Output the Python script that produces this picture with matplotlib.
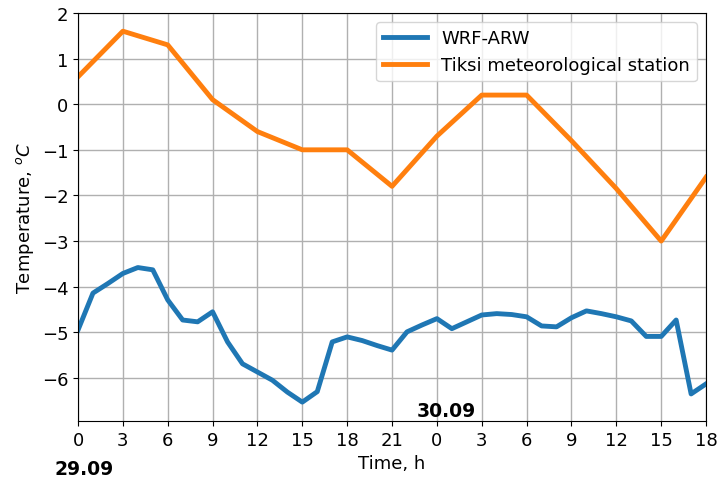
import numpy as np
import matplotlib
matplotlib.use("Agg")
import matplotlib.pyplot as plt

# hours from 00 UTC 29.09
hours_wrf = np.arange(0, 43)
wrf = [-4.95, -4.14, -3.93, -3.71, -3.58, -3.63, -4.29, -4.73, -4.77, -4.55,
       -5.21, -5.69, -5.87, -6.05, -6.31, -6.53, -6.30, -5.21, -5.10, -5.18,
       -5.29, -5.39, -4.99, -4.84, -4.70, -4.92, -4.77, -4.62, -4.59, -4.61,
       -4.66, -4.86, -4.88, -4.68, -4.53, -4.59, -4.66, -4.75, -5.09, -5.09,
       -4.73, -6.35, -6.13]

hours_obs = np.arange(0, 43, 3)
obs = [0.6, 1.6, 1.3, 0.1, -0.6, -1.0, -1.0, -1.8, -0.7, 0.2, 0.2, -0.8,
       -1.85, -3.0, -1.6]

tick_pos = np.arange(0, 43, 3)
tick_labels = [str(h % 24) for h in tick_pos]

fig = plt.figure(figsize=(7.19, 4.81), dpi=100)
ax = fig.add_axes([0.1085, 0.123, 0.8735, 0.848])

ax.plot(hours_wrf, wrf, color='#1f77b4', lw=3.5, label='WRF-ARW')
ax.plot(hours_obs, obs, color='#ff7f0e', lw=3.5,
        label='Tiksi meteorological station')

ax.set_xlim(0, 42)
ax.set_ylim(-6.94, 2)
ax.set_xticks(tick_pos)
ax.set_xticklabels(tick_labels)
ax.set_yticks(np.arange(-6, 3, 1))
ax.tick_params(labelsize=13)
ax.grid(True, color='#b0b0b0', lw=1)
for s in ax.spines.values():
    s.set_color('black')

ax.set_xlabel('Time, h', fontsize=13)
ax.set_ylabel('Temperature, $^oC$', fontsize=13)
ax.legend(loc='upper right', fontsize=13, handlelength=2.4)

ax.text(24.6, -6.72, '30.09', fontsize=13.5, fontweight='bold',
        ha='center', va='center')
fig.text(0.117, 0.023, '29.09', fontsize=13.5, fontweight='bold',
         ha='center', va='center')

fig.savefig('out.png', dpi=100)
